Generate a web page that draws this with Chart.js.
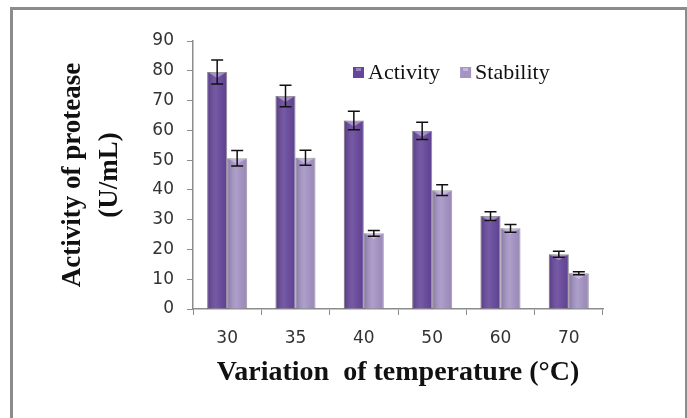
<!DOCTYPE html>
<html>
<head>
<meta charset="utf-8">
<script src="https://cdn.jsdelivr.net/npm/chart.js@4"></script>
<style>
  html, body { margin: 0; padding: 0; background: #fff; }
  #wrap { position: relative; width: 687px; height: 418px; overflow: hidden; }
  #frame {
    position: absolute; left: 10px; top: 7px; width: 672px; height: 430px;
    border: 3px solid #8c8c8c; border-bottom: none;
  }
  #chart { position: absolute; left: 0; top: 0; }
</style>
</head>
<body>
<div id="wrap">
  <div id="frame"></div>
  <canvas id="chart" width="687" height="418"></canvas>
</div>
<script>
const temperatures = ['30', '35', '40', '50', '60', '70'];
const activity = [79.6, 71.5, 63.3, 59.8, 31.2, 18.4];
const activityErr = [4.0, 3.6, 3.1, 2.9, 1.5, 1.0];
const stability = [50.6, 50.8, 25.4, 39.9, 27.1, 12.0];
const stabilityErr = [2.6, 2.5, 1.0, 1.8, 1.3, 0.5];
const yTicks = [0, 10, 20, 30, 40, 50, 60, 70, 80, 90];

const colors = {
  activity: '#65469a',
  stability: '#a493c4'
};

// soft left-to-right shading over each bar, like the office-style columns
function shadeBars(chart) {
  const ctx = chart.ctx;
  ctx.save();
  chart.data.datasets.forEach((ds, i) => {
    chart.getDatasetMeta(i).data.forEach(bar => {
      const x0 = bar.x - bar.width / 2;
      const h = bar.base - bar.y;
      const g = ctx.createLinearGradient(x0, 0, x0 + bar.width, 0);
      g.addColorStop(0, 'rgba(20,0,40,0.22)');
      g.addColorStop(0.45, 'rgba(255,255,255,0.10)');
      g.addColorStop(1, 'rgba(20,0,40,0.08)');
      ctx.fillStyle = g;
      ctx.fillRect(x0, bar.y, bar.width, h);
      // little light wedge at the top of the column
      ctx.fillStyle = 'rgba(235,215,255,0.45)';
      ctx.beginPath();
      ctx.moveTo(x0 + 2, bar.y + 1);
      ctx.lineTo(x0 + bar.width - 2, bar.y + 1);
      ctx.lineTo(bar.x, bar.y + 6);
      ctx.closePath();
      ctx.fill();
    });
  });
  ctx.restore();
}

const errorBars = {
  id: 'errorBars',
  afterDatasetsDraw(chart) {
    shadeBars(chart);
    const ctx = chart.ctx;
    const y = chart.scales.y;
    const errs = [activityErr, stabilityErr];
    ctx.save();
    ctx.strokeStyle = '#111';
    ctx.lineWidth = 1.5;
    chart.data.datasets.forEach((ds, i) => {
      chart.getDatasetMeta(i).data.forEach((bar, j) => {
        const v = ds.data[j];
        const top = y.getPixelForValue(v + errs[i][j]);
        const bot = y.getPixelForValue(v - errs[i][j]);
        const half = 6;
        ctx.beginPath();
        ctx.moveTo(bar.x, top); ctx.lineTo(bar.x, bot);
        ctx.moveTo(bar.x - half, top); ctx.lineTo(bar.x + half, top);
        ctx.moveTo(bar.x - half, bot); ctx.lineTo(bar.x + half, bot);
        ctx.stroke();
      });
    });
    ctx.restore();
  }
};

// legend sits inside the plot, top right
const insideLegend = {
  id: 'insideLegend',
  afterDraw(chart) {
    const ctx = chart.ctx;
    const area = chart.chartArea;
    const fills = [colors.activity, colors.stability];
    let x = area.left + 160;
    const yMid = area.top + 31;
    ctx.save();
    ctx.font = '22px "Liberation Serif"';
    ctx.textBaseline = 'middle';
    chart.data.datasets.forEach((ds, i) => {
      ctx.fillStyle = fills[i];
      ctx.fillRect(x, yMid - 5, 11, 11);
      ctx.fillStyle = 'rgba(255,255,255,0.35)';
      ctx.fillRect(x + 3, yMid - 4, 5, 3);
      ctx.fillStyle = '#111';
      ctx.fillText(ds.label, x + 15, yMid + 1);
      x += 15 + ctx.measureText(ds.label).width + 20;
    });
    ctx.restore();
  }
};

new Chart(document.getElementById('chart'), {
  type: 'bar',
  data: {
    labels: temperatures,
    datasets: [
      { label: 'Activity', data: activity, backgroundColor: colors.activity,
        borderColor: 'rgba(60,50,70,0.5)', borderWidth: 1,
        categoryPercentage: 0.585, barPercentage: 1.0 },
      { label: 'Stability', data: stability, backgroundColor: colors.stability,
        borderColor: 'rgba(80,70,90,0.45)', borderWidth: 1,
        categoryPercentage: 0.585, barPercentage: 1.0 }
    ]
  },
  options: {
    responsive: false,
    animation: false,
    devicePixelRatio: 1,
    layout: { padding: { left: 0, right: 84, top: 41, bottom: 0 } },
    plugins: {
      legend: { display: false },
      tooltip: { enabled: false }
    },
    scales: {
      x: {
        afterFit: s => { s.height = 109; },
        grid: { drawOnChartArea: false, drawTicks: true, tickLength: 6, color: '#8c8c8c' },
        border: { color: '#8c8c8c', width: 1.5 },
        ticks: { color: '#333', padding: 13, font: { family: 'DejaVu Sans', size: 17 } },
        title: {
          display: true,
          text: 'Variation  of temperature (\u00B0C)',
          color: '#111',
          font: { family: 'Liberation Serif', size: 28, weight: 'bold', lineHeight: 1.2 },
          padding: { top: 0, bottom: 28 }
        }
      },
      y: {
        min: 0,
        max: 90,
        afterFit: s => { s.width = 193; },
        afterBuildTicks: s => { s.ticks = yTicks.map(v => ({ value: v })); },
        grid: { drawOnChartArea: false, drawTicks: true, tickLength: 6, color: '#8c8c8c' },
        border: { color: '#8c8c8c', width: 1.5 },
        ticks: { color: '#333', padding: 13, font: { family: 'DejaVu Sans', size: 17 } },
        title: {
          display: true,
          text: ['Activity of protease', '(U/mL)'],
          color: '#111',
          font: { family: 'Liberation Serif', size: 27, weight: 'bold', lineHeight: 1.35 },
          padding: { top: 55, bottom: 0 }
        }
      }
    }
  },
  plugins: [errorBars, insideLegend]
});
</script>
</body>
</html>
